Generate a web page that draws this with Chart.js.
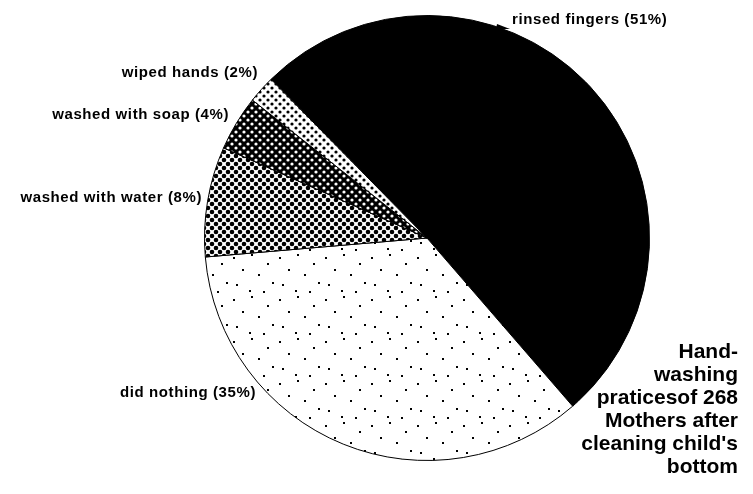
<!DOCTYPE html>
<html>
<head>
<meta charset="utf-8">
<script src="https://cdn.jsdelivr.net/npm/chart.js@4.4.1/dist/chart.umd.min.js"></script>
<style>
  html, body { margin: 0; padding: 0; background: #fff; }
  #wrap { width: 753px; height: 494px; position: relative; }
</style>
</head>
<body>
<div id="wrap"><canvas id="pieChart"></canvas></div>
<script>
// values
const categories = ['rinsed fingers', 'did nothing', 'washed with water', 'washed with soap', 'wiped hands'];
const percents = [51, 35, 8, 4, 2];
const titleLines = ['Hand-', 'washing', 'praticesof 268', 'Mothers after', "cleaning child's", 'bottom'];

// where each label sits (text anchor, right edge for the left-hand ones)
const labelPos = [
    { x: 512, y: 20, align: 'left' },
    { x: 256, y: 393, align: 'right' },
    { x: 202, y: 198, align: 'right' },
    { x: 229, y: 115, align: 'right' },
    { x: 258, y: 73, align: 'right' }
];

// halftone style fills
function dotPattern(size, r, bg, fg) {
    var c = document.createElement('canvas');
    c.width = size; c.height = size;
    var g = c.getContext('2d');
    g.fillStyle = bg;
    g.fillRect(0, 0, size, size);
    g.fillStyle = fg;
    var pts = [[0, 0], [size, 0], [0, size], [size, size], [size / 2, size / 2]];
    pts.forEach(function(p) {
        g.beginPath();
        g.arc(p[0], p[1], r, 0, Math.PI * 2);
        g.fill();
    });
    return g.createPattern(c, 'repeat');
}

function stipplePattern() {
    var c = document.createElement('canvas');
    c.width = 46; c.height = 42;
    var g = c.getContext('2d');
    g.fillStyle = '#fff';
    g.fillRect(0, 0, 46, 42);
    g.fillStyle = '#000';
    var pts = [[3, 5], [21, 2], [37, 11], [12, 17], [28, 22], [42, 30], [6, 32], [19, 38], [33, 39]];
    pts.forEach(function(p) {
        g.fillRect(p[0], p[1], 2, 2);
    });
    return g.createPattern(c, 'repeat');
}

var fills = [
    '#000',
    stipplePattern(),
    dotPattern(8, 2.3, '#fff', '#000'),
    dotPattern(8, 1.6, '#000', '#fff'),
    dotPattern(8, 1.6, '#fff', '#000')
];

const labelPlugin = {
    id: 'sliceLabels',
    afterDatasetsDraw(chart) {
        var ctx = chart.ctx;
        ctx.save();
        ctx.fillStyle = '#000';
        ctx.font = 'bold 15px "Liberation Sans", Arial, sans-serif';
        ctx.letterSpacing = '0.6px';
        ctx.textBaseline = 'middle';
        categories.forEach(function(name, i) {
            var p = labelPos[i];
            ctx.textAlign = p.align;
            ctx.fillText(name + ' (' + percents[i] + '%)', p.x, p.y);
        });
        // little pointer at the top label
        ctx.beginPath();
        ctx.moveTo(496, 29);
        ctx.lineTo(510, 29);
        ctx.lineTo(497, 24);
        ctx.closePath();
        ctx.fill();

        // title block, bottom right
        ctx.letterSpacing = '0px';
        ctx.font = 'bold 21px "Liberation Sans", Arial, sans-serif';
        ctx.textAlign = 'right';
        ctx.textBaseline = 'alphabetic';
        titleLines.forEach(function(line, i) {
            ctx.fillText(line, 738, 358 + i * 23);
        });
        ctx.restore();
    }
};

var ctx = document.getElementById('pieChart').getContext('2d');
var pieChart = new Chart(ctx, {
    type: 'pie',
    data: {
        labels: categories,
        datasets: [{
            data: percents,
            backgroundColor: fills,
            borderColor: '#000',
            borderWidth: 1
        }]
    },
    options: {
        responsive: true,
        maintainAspectRatio: false,
        animation: false,
        devicePixelRatio: 1,
        rotation: -44.5,
        layout: {
            padding: { top: 15, bottom: 33, left: 101, right: 0 }
        },
        plugins: {
            legend: { display: false },
            tooltip: { enabled: false }
        }
    },
    plugins: [labelPlugin]
});
</script>
</body>
</html>
